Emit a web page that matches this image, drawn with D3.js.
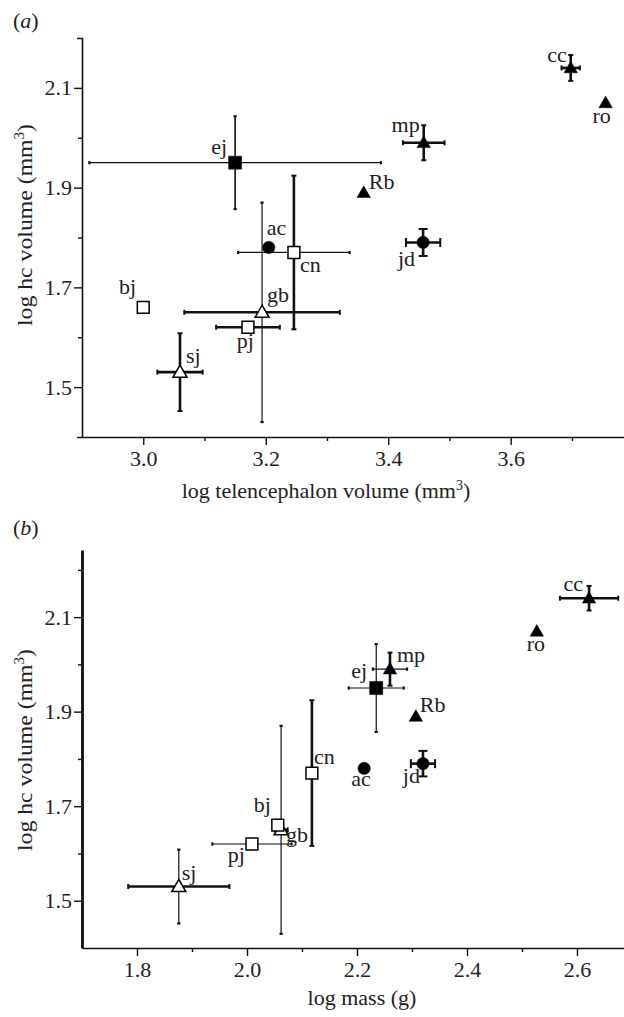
<!DOCTYPE html>
<html>
<head>
<meta charset="utf-8">
<script src="https://cdn.jsdelivr.net/npm/d3@7/dist/d3.min.js"></script>
<style>
  html, body { margin: 0; padding: 0; background: #fff; }
  svg { display: block; }
  text { font-family: "Liberation Serif", "DejaVu Serif", serif; fill: #222; }
</style>
</head>
<body>
<svg id="chart" width="624" height="1017"></svg>
<script>
// ---------------- DATA ----------------
const species  = ["ej", "ac", "cn", "bj", "gb", "pj", "sj", "Rb", "mp", "jd", "cc", "ro"];
const shapes   = ["fsquare", "fcircle", "osquare", "osquare", "otriangle", "osquare", "otriangle",
                  "ftriangle", "ftriangle", "fcircle", "ftriangle", "ftriangle"];
const hcVolume = [1.95, 1.78, 1.77, 1.66, 1.65, 1.62, 1.53, 1.89, 1.99, 1.79, 2.14, 2.07];
const hcErr    = [0.093, 0, 0.154, 0, 0.22, 0, 0.078, 0, 0.035, 0.027, 0.026, 0];
const telVolume = [3.15, 3.205, 3.246, 3.0, 3.194, 3.171, 3.06, 3.36, 3.458, 3.457, 3.698, 3.755];
const telErr    = [0.238, 0, 0.091, 0, 0.127, 0.052, 0.037, 0, 0.034, 0.028, 0.015, 0];
const logMass   = [2.235, 2.213, 2.118, 2.056, 2.062, 2.009, 1.876, 2.307, 2.26, 2.32, 2.622, 2.527];
const massErr   = [0.05, 0, 0, 0, 0.012, 0.072, 0.092, 0, 0.031, 0.022, 0.053, 0];

const yTicksMajor  = [1.5, 1.7, 1.9, 2.1];
const yTickLabels  = ["1.5", "1.7", "1.9", "2.1"];
const xTicksMajorA = [3.0, 3.2, 3.4, 3.6];
const xTickLabelsA = ["3.0", "3.2", "3.4", "3.6"];
const xTicksMajorB = [1.8, 2.0, 2.2, 2.4, 2.6];
const xTickLabelsB = ["1.8", "2.0", "2.2", "2.4", "2.6"];

// ---------------- STYLE / LAYOUT (not data) ----------------
// error bar line weights: [x-bar, y-bar] per panel
const barWeightA = {ej:[1.2,1.6], cn:[1.2,2.6], gb:[2.6,1.2], pj:[2.6,0], sj:[2.6,2.6], mp:[2.6,2.6], jd:[2.6,2.6], cc:[2.6,2.6]};
const barWeightB = {ej:[1.2,1.2], cn:[0,2.6], gb:[2.6,1.2], pj:[1.2,0], sj:[2.6,1.2], mp:[1.2,2.6], jd:[2.6,2.6], cc:[2.6,2.6]};
const capHalf = {jd: 4.5};
// marker drawing order (open squares on top)
const drawOrder = {otriangle: 0, ftriangle: 1, fcircle: 2, fsquare: 3, osquare: 4};
// label offsets: [dx, dy, anchor]
const labelPosA = {ej:[-8,-9,"end"], ac:[-2,-12,"start"], cn:[6,20,"start"], bj:[-7,-13,"end"],
  gb:[5,-10,"start"], pj:[6,21,"end"], sj:[6,-9,"start"], Rb:[5,-4,"start"], mp:[-4,-11,"end"],
  jd:[-8,24,"end"], cc:[-4,-6,"end"], ro:[-4,20,"middle"]};
const labelPosB = {ej:[-9,-10,"end"], ac:[-3,18,"middle"], cn:[2,-9,"start"], bj:[-7,-13,"end"],
  gb:[5,12,"start"], pj:[-7,18,"end"], sj:[3,-7,"start"], Rb:[4,-4,"start"], mp:[7,-7,"start"],
  jd:[-3,19,"end"], cc:[-6,-7,"end"], ro:[-1,20,"middle"]};

const svg = d3.select("#chart");
const FS = 22;

function drawPanel(opt) {
  const g = svg.append("g");
  const x = d3.scaleLinear().domain(opt.xDomain).range(opt.xRange);
  const y = d3.scaleLinear().domain(opt.yDomain).range(opt.yRange);

  // axes
  const yAxis = d3.axisLeft(y).tickValues(yTicksMajor).tickFormat((d, i) => yTickLabels[i])
    .tickSize(8).tickSizeOuter(opt.yOuter).tickPadding(2);
  const yMinor = d3.axisLeft(y).tickValues(opt.yMinor).tickFormat("").tickSize(4).tickSizeOuter(0);
  const xAxis = d3.axisBottom(x).tickValues(opt.xMajor).tickFormat((d, i) => opt.xLabels[i])
    .tickSize(8).tickSizeOuter(0).tickPadding(5);
  const xMinor = d3.axisBottom(x).tickValues(opt.xMinor).tickFormat("").tickSize(4).tickSizeOuter(0);

  const gy = g.append("g").attr("transform", `translate(${opt.xRange[0]},0)`).call(yAxis);
  g.append("g").attr("transform", `translate(${opt.xRange[0]},0)`).call(yMinor).select(".domain").remove();
  const gx = g.append("g").attr("transform", `translate(0,${opt.yRange[0]})`).call(xAxis);
  g.append("g").attr("transform", `translate(0,${opt.yRange[0]})`).call(xMinor).select(".domain").remove();

  g.selectAll(".tick line").attr("stroke", "#111").attr("stroke-width", 1.4);
  gy.select(".domain").attr("stroke", "#111").attr("stroke-width", opt.yAxisW);
  gx.select(".domain").attr("stroke", "#111").attr("stroke-width", 1.6);
  g.selectAll(".tick text").attr("font-size", FS).attr("font-family", "Liberation Serif").attr("fill", "#222");

  // axis titles
  g.append("text").attr("x", opt.xTitlePos[0]).attr("y", opt.xTitlePos[1])
    .attr("text-anchor", "middle").attr("font-size", FS)
    .call(t => { t.append("tspan").text(opt.xTitle);
      if (opt.xTitleSup) { t.append("tspan").attr("font-size", 14).attr("dy", -8).text("3");
        t.append("tspan").attr("dy", 8).text(")"); } });
  g.append("text").attr("transform", `translate(${opt.yTitlePos[0]},${opt.yTitlePos[1]}) rotate(-90) scale(1.08,1)`)
    .attr("text-anchor", "middle").attr("font-size", FS)
    .call(t => { t.append("tspan").text("log hc volume (mm");
      t.append("tspan").attr("font-size", 14).attr("dy", -8).text("3");
      t.append("tspan").attr("dy", 8).text(")"); });

  // panel letter
  g.append("text").attr("x", 13).attr("y", opt.letterY).attr("font-size", FS)
    .call(t => { t.append("tspan").text("(");
      t.append("tspan").attr("font-style", "italic").text(opt.letter);
      t.append("tspan").text(")"); });

  const xs = opt.xVals, xe = opt.xErr;
  // error bars
  species.forEach((s, i) => {
    const w = opt.weights[s] || [0, 0];
    const cx = x(xs[i]), cy = y(hcVolume[i]);
    const ch = capHalf[s];
    if (xe[i] > 0 && w[0] > 0) {
      const x0 = x(xs[i] - xe[i]), x1 = x(xs[i] + xe[i]);
      const c = ch || (w[0] > 2 ? 2.5 : 1.6);
      g.append("line").attr("x1", x0).attr("x2", x1).attr("y1", cy).attr("y2", cy)
        .attr("stroke", "#111").attr("stroke-width", w[0]);
      [x0, x1].forEach(xx => g.append("line").attr("x1", xx).attr("x2", xx)
        .attr("y1", cy - c).attr("y2", cy + c).attr("stroke", "#111").attr("stroke-width", w[0] > 2 ? 2 : 2.2));
    }
    if (hcErr[i] > 0 && w[1] > 0) {
      const y0 = y(hcVolume[i] - hcErr[i]), y1 = y(hcVolume[i] + hcErr[i]);
      const c = ch || (w[1] > 2 ? 2.5 : 1.6);
      g.append("line").attr("x1", cx).attr("x2", cx).attr("y1", y0).attr("y2", y1)
        .attr("stroke", "#111").attr("stroke-width", w[1]);
      [y0, y1].forEach(yy => g.append("line").attr("y1", yy).attr("y2", yy)
        .attr("x1", cx - c).attr("x2", cx + c).attr("stroke", "#111").attr("stroke-width", w[1] > 2 ? 2 : 2.2));
    }
  });

  // markers
  const sym = {
    fsquare: d3.symbol().type(d3.symbolSquare).size(170),
    osquare: d3.symbol().type(d3.symbolSquare).size(140),
    fcircle: d3.symbol().type(d3.symbolCircle).size(120),
    ftriangle: d3.symbol().type(d3.symbolTriangle).size(78),
    otriangle: d3.symbol().type(d3.symbolTriangle).size(85)
  };
  const order = d3.range(species.length).sort((a, b) => drawOrder[shapes[a]] - drawOrder[shapes[b]]);
  order.forEach(i => {
    const sh = shapes[i];
    const filled = sh[0] === "f";
    g.append("path").attr("d", sym[sh]())
      .attr("transform", `translate(${x(xs[i])},${y(hcVolume[i]) + (sh.includes("triangle") ? 1 : 0)})`)
      .attr("fill", filled ? "#000" : "#fff")
      .attr("stroke", "#000").attr("stroke-width", filled ? 0.5 : 1.5);
  });

  // labels
  species.forEach((s, i) => {
    const p = opt.labels[s];
    g.append("text").attr("x", x(xs[i]) + p[0]).attr("y", y(hcVolume[i]) + p[1])
      .attr("text-anchor", p[2]).attr("font-size", FS).text(s);
  });
}

drawPanel({
  xDomain: [2.9, 3.785], xRange: [82, 624], yDomain: [1.4, 2.2], yRange: [437, 38],
  xMajor: xTicksMajorA, xLabels: xTickLabelsA, xMinor: [3.1, 3.3, 3.5, 3.7], yMinor: [1.6, 1.8, 2.0],
  yOuter: 5, yAxisW: 1.6,
  xVals: telVolume, xErr: telErr, weights: barWeightA, labels: labelPosA,
  xTitle: "log telencephalon volume (mm", xTitleSup: true, xTitlePos: [326, 498],
  yTitlePos: [32, 225], letter: "a", letterY: 28
});

drawPanel({
  xDomain: [1.7, 2.6855], xRange: [82, 624], yDomain: [1.4, 2.242], yRange: [948, 550],
  xMajor: xTicksMajorB, xLabels: xTickLabelsB, xMinor: [1.9, 2.1, 2.3, 2.5], yMinor: [1.6, 1.8, 2.0, 2.2],
  yOuter: 0, yAxisW: 2.8,
  xVals: logMass, xErr: massErr, weights: barWeightB, labels: labelPosB,
  xTitle: "log mass (g)", xTitleSup: false, xTitlePos: [362, 1005],
  yTitlePos: [32, 750], letter: "b", letterY: 535
});
</script>
</body>
</html>
